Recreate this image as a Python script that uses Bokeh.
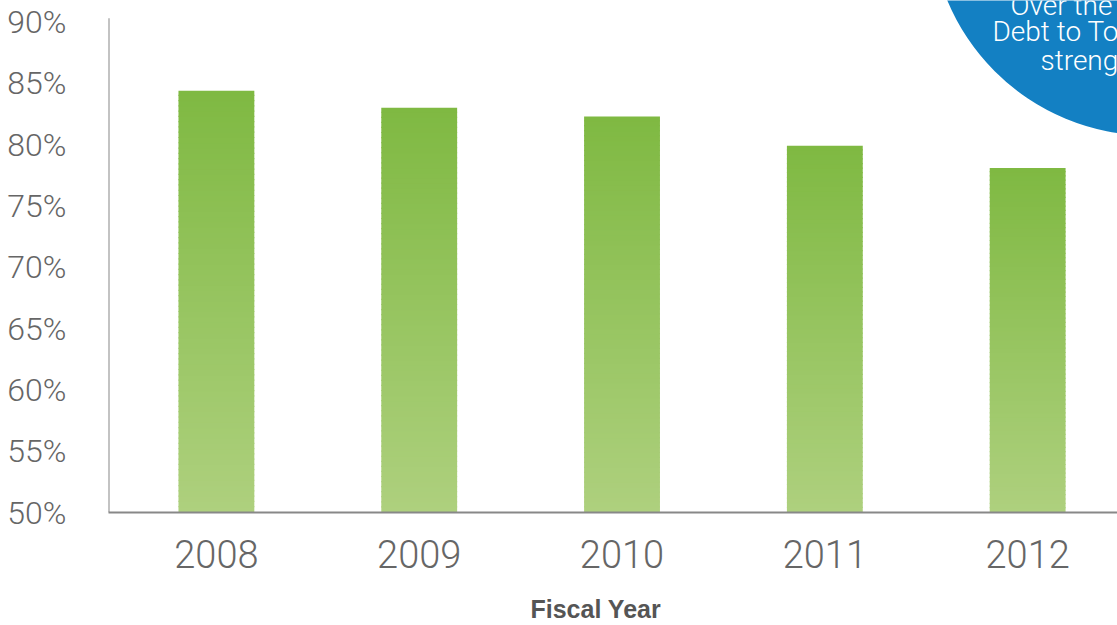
import numpy as np
from bokeh.plotting import figure
from bokeh.models import Range1d, FixedTicker, Title
from bokeh.core.properties import value
from bokeh.embed import file_html
from bokeh.resources import INLINE

# ---- data ----
years = [2008, 2009, 2010, 2011, 2012]
debt_ratio = [84.4, 83.0, 82.3, 79.9, 78.1]
y_ticks = [50, 55, 60, 65, 70, 75, 80, 85, 90]
x_label = "Fiscal Year"
callout_lines = ["Over the past five years,", "Debt to Total Capitalization", "strengthened steadily"]

# ---- style ----
top_color = np.array([0x7F, 0xB9, 0x42])
bottom_color = np.array([0xAE, 0xD0, 0x7E])
FONT = "Roboto Light"

x_start, x_end = 2007.468, 2012.443
y_start, y_end = 50.0, 91.75
px_x = (x_end - x_start) / 1009.0
px_y = (y_end - y_start) / 512.0

p = figure(frame_width=1009, frame_height=512, width=1117, height=625,
           x_range=Range1d(x_start, x_end), y_range=Range1d(y_start, y_end),
           output_backend="svg", toolbar_location=None,
           min_border_left=108, min_border_right=0, min_border_top=0, min_border_bottom=0)
p.outline_line_color = None
p.grid.visible = False
p.background_fill_color = "white"
p.border_fill_color = "white"

# gradient bars: thin overlapping strips, drawn bottom to top
N = 80
l, r, b, t, c = [], [], [], [], []
for yr, v in zip(years, debt_ratio):
    edges = np.linspace(y_start, v, N + 1)
    for i in range(N):
        frac = (i + 0.5) / N
        col = bottom_color + (top_color - bottom_color) * frac
        l.append(yr - 0.187)
        r.append(yr + 0.187)
        b.append(edges[i])
        t.append(min(edges[i + 1] + 1.2 * px_y, v))
        c.append("#%02x%02x%02x" % tuple(int(round(x)) for x in col))
p.quad(left=l, right=r, bottom=b, top=t, fill_color=c, line_color=None)

# blue callout circle (top right)
p.circle(x=[x_start + 1041 * px_x], y=[y_end + 84 * px_y], radius=219, radius_units="screen",
         fill_color="#1380C3", line_color=None)
p.text(x=[x_start + 902 * px_x, x_start + 884 * px_x, x_start + 932 * px_x],
       y=[y_end - 5 * px_y, y_end - 31 * px_y, y_end - 60 * px_y],
       text=callout_lines, text_align="left", text_baseline="middle",
       text_color="white", text_font=value(FONT), text_font_size="28px")

# y axis line drawn up to just above 90%
p.segment(x0=[x_start], x1=[x_start], y0=[y_start], y1=[90.3], line_color="#888888", line_width=2)

ya = p.yaxis[0]
ya.ticker = FixedTicker(ticks=y_ticks)
ya.major_label_overrides = {t_: f"{t_}%" for t_ in y_ticks}
ya.axis_line_color = None
ya.major_tick_line_color = None
ya.minor_tick_line_color = None
ya.major_label_standoff = 36
ya.major_label_text_font = FONT
ya.major_label_text_font_size = "32px"
ya.major_label_text_color = "#666666"

xa = p.xaxis[0]
xa.ticker = FixedTicker(ticks=years)
xa.major_label_overrides = {y_: str(y_) for y_ in years}
xa.axis_line_color = "#888888"
xa.axis_line_width = 2
xa.major_tick_line_color = None
xa.minor_tick_line_color = None
xa.major_label_standoff = 21
xa.major_label_text_font = FONT
xa.major_label_text_font_size = "38px"
xa.major_label_text_color = "#666666"

title_below = Title(text=x_label, align="left", offset=422, vertical_align="bottom",
                    text_font="Liberation Sans", text_font_style="bold",
                    text_font_size="25px", text_color="#555555", standoff=44)
p.add_layout(title_below, "below")

open("out.html", "w").write(file_html(p, INLINE))
